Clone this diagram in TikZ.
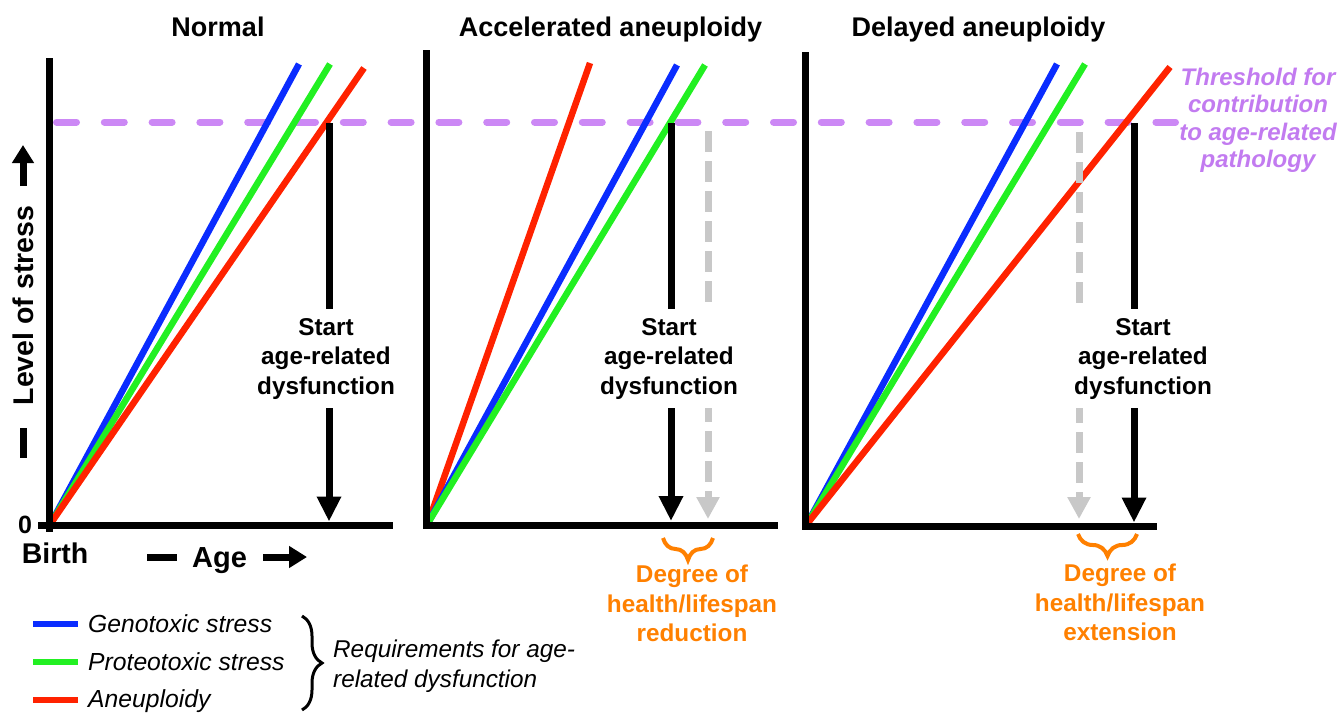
\documentclass[tikz,border=0pt]{standalone}
\usepackage{fontspec}
\setmainfont{Liberation Sans}
\usetikzlibrary{arrows.meta,decorations.pathreplacing}

\definecolor{gblue}{HTML}{0A2CFF}
\definecolor{ggreen}{HTML}{22F022}
\definecolor{gred}{HTML}{FF2200}
\definecolor{thr}{HTML}{CC88F5}
\definecolor{thrtext}{HTML}{C27BF0}
\definecolor{ora}{HTML}{FF8000}
\definecolor{lgray}{HTML}{C8C8C8}

\newcommand{\setfs}[2]{\fontsize{#1pt}{#2pt}\selectfont}

\tikzset{
  axisline/.style={line width=7pt, line join=miter},
  curve/.style={line width=6.5pt},
  threshold/.style={line width=7pt, draw=thr, line cap=round, dash pattern=on 20pt off 27.8pt},
  onset/.style={line width=7pt, -{Triangle[length=25pt,width=23pt]}},
  shifted/.style={line width=7pt, draw=lgray, dash pattern=on 21pt off 9pt, -{Triangle[length=22pt,width=22pt]}},
  title/.style={anchor=base, inner sep=0pt, font=\setfs{27}{32}\bfseries},
  axlabel/.style={inner sep=0pt, font=\setfs{28.5}{33}\bfseries},
  startlabel/.style={anchor=north, align=center, fill=white, inner xsep=4pt, inner ysep=9pt, font=\setfs{24.3}{29.5}\bfseries},
  degreelabel/.style={anchor=north, align=center, inner sep=0pt, text=ora, font=\setfs{24.3}{29.5}\bfseries},
  bracestyle/.style={decorate, decoration={brace, amplitude=#1}},
  legendtext/.style={anchor=base west, inner sep=0pt, font=\setfs{24.7}{29}\itshape},
  stub/.style={line width=7pt},
  stubarrow/.style={line width=7pt, -{Triangle[length=18pt,width=21pt]}}
}

\begin{document}
\begin{tikzpicture}[x=1pt, y=-1pt]
\useasboundingbox (0,0) rectangle (1343,713);

% threshold for contribution to pathology
\draw[threshold] (56.5,122) -- (1175.5,122);

% ---- stress curves ----
% Normal
\draw[curve, gblue]  (51,523) -- (299,64);
\draw[curve, ggreen] (51,523) -- (330,64);
\draw[curve, gred]   (51,523) -- (364,68);
% Accelerated aneuploidy
\draw[curve, gred]   (428,523) -- (590,63);
\draw[curve, gblue]  (428,523) -- (677,65);
\draw[curve, ggreen] (428,523) -- (705,65);
% Delayed aneuploidy
\draw[curve, gblue]  (807,524) -- (1057,64);
\draw[curve, ggreen] (807,524) -- (1085,64);
\draw[curve, gred]   (807,524) -- (1170,67);

% ---- axes ----
\draw[axisline] (49.5,58) -- (49.5,532);
\draw[axisline] (38,525) -- (393,525);
\draw[axisline] (426,50) -- (426,525) -- (778,525);
\draw[axisline] (805,52) -- (805,526) -- (1157,526);

% ---- onset markers ----
\coordinate (n1top) at (329,123);
\coordinate (n1bot) at (329,521.5);
\coordinate (a1top) at (671,123);
\coordinate (a1bot) at (671,521);
\coordinate (a0top) at (708,131);
\coordinate (a0bot) at (708,519);
\coordinate (d1top) at (1134,123);
\coordinate (d1bot) at (1134,522.5);
\coordinate (d0top) at (1079,132);
\coordinate (d0bot) at (1079,519);

\draw[onset] (n1top) -- (n1bot);
\draw[shifted] (a0top) -- (a0bot);
\draw[onset] (a1top) -- (a1bot);
\draw[shifted] (d0top) -- (d0bot);
\draw[onset] (d1top) -- (d1bot);

\node[startlabel] (startN) at (326,309) {Start\\age-related\\dysfunction};
\node[startlabel] (startA) at (669,309) {Start\\age-related\\dysfunction};
\node[startlabel] (startD) at (1143,309) {Start\\age-related\\dysfunction};

% ---- titles ----
\node[title] (tN) at (218,36) {Normal};
\node[title] (tA) at (610.5,36) {Accelerated aneuploidy};
\node[title] (tD) at (978.5,36) {Delayed aneuploidy};

% ---- axis labels ----
\node[axlabel, rotate=90] (ylab) at (23,305.5) {Level of stress};
\draw[stubarrow] (23,186) -- (23,145);
\draw[stub] (23,428) -- (23,458);
\node[axlabel, anchor=base] (zero) at (25,533) {\setfs{25}{30}0};
\node[axlabel, anchor=base] (birth) at (55,563) {Birth};
\node[axlabel, anchor=base, font=\setfs{29}{34}\bfseries] (age) at (219.5,567) {Age};
\draw[stub] (147,557) -- (177,557);
\draw[stubarrow] (263,557) -- (307,557);

% ---- threshold label ----
\node[anchor=north, align=center, inner sep=0pt, text=thrtext,
      font=\setfs{24}{27.5}\bfseries\itshape] (thrlab) at (1258,67.5)
  {Threshold for\\contribution\\to age-related\\pathology};

% ---- lifespan change ----
\draw[ora, line width=4pt, bracestyle=22pt] (713,538) -- (663,538);
\node[degreelabel] (redA) at (692,565) {Degree of\\health/lifespan\\reduction};
\draw[ora, line width=4pt, bracestyle=22pt] (1137,534) -- (1078,534);
\node[degreelabel] (extD) at (1120,564) {Degree of\\health/lifespan\\extension};

% ---- legend ----
\draw[curve, gblue]  (33,624) -- (78,624);
\draw[curve, ggreen] (33,662) -- (78,662);
\draw[curve, gred]   (33,700) -- (78,700);
\node[legendtext] (lgB) at (88,632) {Genotoxic stress};
\node[legendtext] (lgG) at (88,670) {Proteotoxic stress};
\node[legendtext] (lgR) at (88,707) {Aneuploidy};
\draw[line width=3pt, bracestyle=20pt] (302,616) -- (302,710);
\node[anchor=north west, align=left, inner sep=0pt, font=\setfs{24.3}{30}\itshape] (req)
  at (333,640) {Requirements for age-\\related dysfunction};

\end{tikzpicture}
\end{document}
